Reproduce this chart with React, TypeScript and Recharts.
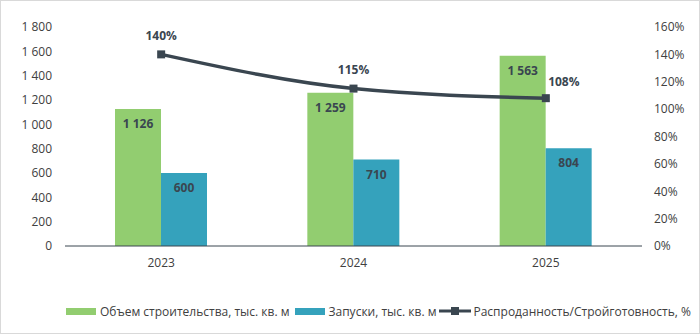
import { ComposedChart, Bar, Line, XAxis, YAxis, Legend, LabelList } from "recharts";

const years = ["2023", "2024", "2025"];
const volume = [1126, 1259, 1563];
const launches = [600, 710, 804];
const soldRate = [140, 115, 108];

const leftTicks = [0, 200, 400, 600, 800, 1000, 1200, 1400, 1600, 1800];
const rightTicks = [0, 20, 40, 60, 80, 100, 120, 140, 160];

const GREEN = "#92CD70";
const BLUE = "#35A2BC";
const DARK = "#3A4650";
const TEXT = "#404040";
const FONT = "'Open Sans', sans-serif";

const data = years.map((y, i) => ({
  year: y,
  volume: volume[i],
  launches: launches[i],
  rate: soldRate[i],
}));

const fmt = (v: number) => String(v).replace(/\B(?=(\d{3})+(?!\d))/g, " ");

const SquareDot = (props: any) => {
  const { cx, cy } = props;
  if (cx == null || cy == null) return null;
  return <rect x={cx - 4} y={cy - 4} width={8} height={8} fill={DARK} />;
};

const BarLabel = (props: any) => {
  const { x, y, width, value } = props;
  return (
    <text x={x + width / 2} y={y + 15} dy="0.35em" textAnchor="middle"
      fontSize={12} fontWeight="bold" fill={DARK} fontFamily={FONT}>
      {fmt(value)}
    </text>
  );
};

const RateLabel = (props: any) => {
  const { x, y, value, index } = props;
  const last = index === soldRate.length - 1;
  return (
    <text x={last ? x + 18 : x} y={last ? y - 16 : y - 19} dy="0.35em" textAnchor="middle"
      fontSize={12} fontWeight="bold" fill={DARK} fontFamily={FONT}>
      {value}%
    </text>
  );
};

const LegendBox = () => (
  <div style={{ display: "flex", justifyContent: "flex-start", alignItems: "center", height: 16,
    paddingLeft: 65, fontFamily: FONT, fontSize: 12, color: TEXT, whiteSpace: "nowrap" }}>
    <span style={{ display: "inline-block", width: 30, height: 7, background: GREEN, marginRight: 4 }} />
    <span style={{ marginRight: 5 }}>Объем строительства, тыс. кв. м</span>
    <span style={{ display: "inline-block", width: 30, height: 7, background: BLUE, marginRight: 4 }} />
    <span style={{ marginRight: 3 }}>Запуски, тыс. кв. м</span>
    <svg width={32} height={10} style={{ marginRight: 2 }}>
      <line x1={0} y1={5} x2={32} y2={5} stroke={DARK} strokeWidth={3} />
      <rect x={12} y={1} width={8} height={8} fill={DARK} />
    </svg>
    <span>Распроданность/Стройготовность, %</span>
  </div>
);

export default function App() {
  return (
    <div style={{ position: "absolute", left: 0, top: 0, width: 700, height: 334,
      boxSizing: "border-box", border: "1px solid #d9d9d9", background: "#fff" }}>
      <ComposedChart width={698} height={332} data={data} barGap={0} barCategoryGap={50}
        margin={{ top: 26, right: 0, bottom: 14, left: 0 }}>
        <XAxis dataKey="year" height={57} tickLine={false} tickMargin={6}
          axisLine={{ stroke: DARK, strokeWidth: 1 }}
          tick={{ fill: TEXT, fontSize: 12, fontFamily: FONT }} />
        <YAxis yAxisId="left" width={64} domain={[0, 1800]} ticks={leftTicks} tickFormatter={fmt}
          axisLine={false} tickLine={false} tickMargin={7}
          tick={{ fill: TEXT, fontSize: 12, fontFamily: FONT }} />
        <YAxis yAxisId="right" orientation="right" width={57} domain={[0, 160]} ticks={rightTicks}
          tickFormatter={(v) => `${v}%`} axisLine={false} tickLine={false} tickMargin={6}
          tick={{ fill: TEXT, fontSize: 12, fontFamily: FONT }} />
        <Legend verticalAlign="bottom" content={<LegendBox />} />
        <Bar yAxisId="left" dataKey="volume" fill={GREEN} isAnimationActive={false}>
          <LabelList dataKey="volume" content={<BarLabel />} />
        </Bar>
        <Bar yAxisId="left" dataKey="launches" fill={BLUE} isAnimationActive={false}>
          <LabelList dataKey="launches" content={<BarLabel />} />
        </Bar>
        <Line yAxisId="right" dataKey="rate" type="monotone" stroke={DARK} strokeWidth={3.5}
          dot={<SquareDot />} activeDot={false} isAnimationActive={false}>
          <LabelList dataKey="rate" content={<RateLabel />} />
        </Line>
      </ComposedChart>
    </div>
  );
}
